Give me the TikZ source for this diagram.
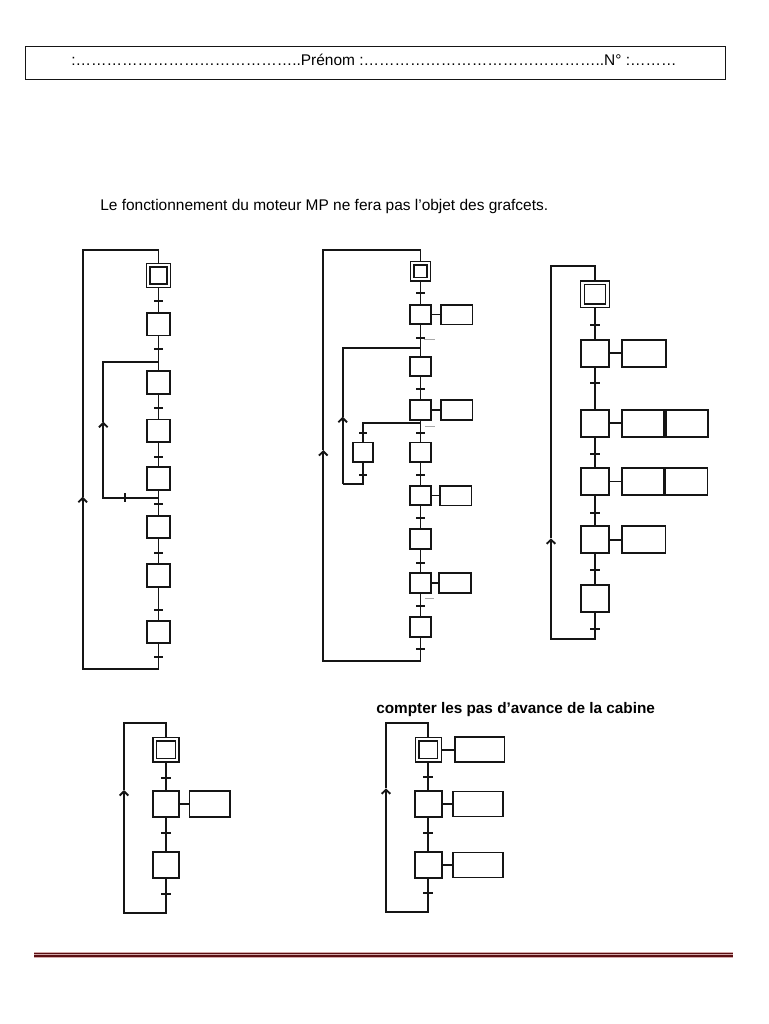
\documentclass[tikz,border=0pt]{standalone}
\usepackage{fontspec}
\setmainfont{Liberation Sans}
\usepackage{xcolor}
\usepackage{tikz}
\usetikzlibrary{positioning,arrows.meta}
\definecolor{GRInk}{HTML}{151515}
\definecolor{GRFaint}{HTML}{A8A8A8}
\definecolor{GRRule}{HTML}{5A0E12}
\definecolor{GRRuleLight}{HTML}{D4A9AA}
\begin{document}
\begin{tikzpicture}[x=0.75pt,y=-0.75pt,font=\fontsize{11.6}{14}\selectfont,
  link/.style={draw=GRInk,line width=1.4pt},
  looparrow/.style={link,-{Straight Barb[length=3.2pt,width=6.5pt]}},
  stepbox/.style={draw=GRInk,line width=1.4pt,inner sep=0pt,outer sep=0pt},
  initbox/.style={draw=GRInk,double,double distance=1.7pt,line width=1pt,inner sep=0pt,outer sep=1.85pt},
  actbox/.style={draw=GRInk,line width=1.3pt,inner sep=0pt,outer sep=0pt},
  trans/.style={fill=GRInk,inner sep=0pt,minimum width=6.5pt,minimum height=1.4pt}]
\path[use as bounding box] (0,0) rectangle (768,1024);
\node[draw=GRInk,line width=1.1pt,minimum width=525pt,minimum height=25pt,inner sep=0pt] (namebox) at (375.5,63) {};
\node[anchor=base,inner sep=0pt] (nameline) at (374,65.5) {:\foreach \k in {1,...,14}{…}..Prénom :\foreach \k in {1,...,15}{…}..N° :………};
\node[anchor=base west,inner sep=0pt] (intro) at (100,210.5) {Le fonctionnement du moteur MP ne fera pas l’objet des grafcets.};
\node[anchor=base west,inner sep=0pt,font=\fontsize{11.5}{14}\selectfont\bfseries] (g5title) at (376,713.5) {compter les pas d’avance de la cabine};
\node[initbox,minimum width=15.4pt,minimum height=15.3pt] (g1s0) at (158.5,275.5) {};
\node[stepbox,minimum width=17.8pt,minimum height=17pt] (g1s1) at (158.5,324.2) {};
\node[stepbox,minimum width=17.8pt,minimum height=17pt] (g1s2) at (158.5,382.3) {};
\node[stepbox,minimum width=17.8pt,minimum height=17pt] (g1s3) at (158.5,430.8) {};
\node[stepbox,minimum width=17.8pt,minimum height=17pt] (g1s4) at (158.5,478.7) {};
\node[stepbox,minimum width=17.8pt,minimum height=17pt] (g1s5) at (158.5,527) {};
\node[stepbox,minimum width=17.8pt,minimum height=17pt] (g1s6) at (158.5,575.5) {};
\node[stepbox,minimum width=17.8pt,minimum height=17pt] (g1s7) at (158.5,632) {};
\node[trans] (g1t1) at (158.5,301) {};
\node[trans] (g1t2) at (158.5,349.3) {};
\node[trans] (g1t3) at (158.5,407.7) {};
\node[trans] (g1t4) at (158.5,456.7) {};
\node[trans] (g1t5) at (158.5,504.3) {};
\node[trans] (g1t6) at (158.5,553) {};
\node[trans] (g1t7) at (158.5,610) {};
\node[trans] (g1t8) at (158.5,657.3) {};
\node[trans,rotate=90] (g1t9) at (125,497.7) {};
\coordinate (g1j1) at (158.5,362);
\coordinate (g1j2) at (158.5,497.7);
\coordinate (g1ra) at (103.3,421.7);
\coordinate (g1la) at (82.7,496.7);
\coordinate (g1bot) at (82.7,668.7);
\coordinate (g1top) at (82.7,250);
\draw[link] (g1s0) -- (g1s1) -- (g1s2) -- (g1s3) -- (g1s4) -- (g1s5) -- (g1s6) -- (g1s7);
\draw[looparrow] (g1j2) -| (g1ra);
\draw[link] (g1ra) |- (g1j1);
\draw[looparrow] (g1s7) -- (g1s7 |- g1bot) -| (g1la);
\draw[link] (g1la) -- (g1top) -| (g1s0);
\node[initbox,minimum width=12.4pt,minimum height=12pt] (g2s0) at (420.5,271.2) {};
\node[stepbox,minimum width=15.5pt,minimum height=14.8pt] (g2s1) at (420.5,314.5) {};
\node[stepbox,minimum width=15.5pt,minimum height=14.8pt] (g2s2) at (420.5,366.5) {};
\node[stepbox,minimum width=15.5pt,minimum height=14.8pt] (g2s3) at (420.5,410) {};
\node[stepbox,minimum width=15.5pt,minimum height=14.8pt] (g2s4l) at (363,452.3) {};
\node[stepbox,minimum width=15.5pt,minimum height=14.8pt] (g2s4) at (420.5,452.3) {};
\node[stepbox,minimum width=15.5pt,minimum height=14.8pt] (g2s5) at (420.5,495.5) {};
\node[stepbox,minimum width=15.5pt,minimum height=14.8pt] (g2s6) at (420.5,538.7) {};
\node[stepbox,minimum width=15.5pt,minimum height=14.8pt] (g2s7) at (420.5,583) {};
\node[stepbox,minimum width=15.5pt,minimum height=14.8pt] (g2s8) at (420.5,626.7) {};
\node[actbox,minimum width=23.8pt,minimum height=14.8pt] (g2a1) at (456.5,314.5) {};
\node[actbox,minimum width=23.8pt,minimum height=14.8pt] (g2a3) at (456.5,410) {};
\node[actbox,minimum width=23.8pt,minimum height=14.8pt] (g2a5) at (455.5,495.5) {};
\node[actbox,minimum width=23.8pt,minimum height=14.8pt] (g2a7) at (455,583) {};
\node[trans] (g2t1) at (420.5,293.3) {};
\node[trans] (g2t2) at (420.5,337.7) {};
\node[trans] (g2t3) at (420.5,389) {};
\node[trans] (g2t4) at (420.5,432.7) {};
\node[trans] (g2t4l) at (363,432.7) {};
\node[trans] (g2t5) at (420.5,475) {};
\node[trans] (g2t5l) at (363,475) {};
\node[trans] (g2t6) at (420.5,518.3) {};
\node[trans] (g2t7) at (420.5,563.3) {};
\node[trans] (g2t8) at (420.5,606) {};
\node[trans] (g2t9) at (420.5,649.3) {};
\coordinate (g2j1) at (420.5,347.7);
\coordinate (g2dv) at (363,423.3);
\coordinate (g2lb) at (342.7,484);
\coordinate (g2ra) at (342.7,416.7);
\coordinate (g2la) at (323.3,450);
\coordinate (g2bot) at (323.3,660.7);
\coordinate (g2top) at (323.3,250);
\draw[link] (g2s0) -- (g2s1) -- (g2s2) -- (g2s3) -- (g2s4) -- (g2s5) -- (g2s6) -- (g2s7) -- (g2s8);
\draw[link] (g2dv -| g2s3) -- (g2dv) -- (g2s4l);
\draw[link] (g2s4l) |- (g2lb);
\draw[looparrow] (g2lb) -- (g2ra);
\draw[link] (g2ra) |- (g2j1);
\draw[link] (g2s1) -- (g2a1);
\draw[link] (g2s3) -- (g2a3);
\draw[link] (g2s5) -- (g2a5);
\draw[link] (g2s7) -- (g2a7);
\draw[looparrow] (g2s8) -- (g2s8 |- g2bot) -| (g2la);
\draw[link] (g2la) -- (g2top) -| (g2s0);
\draw[GRFaint,line width=.6pt] (424,339) -- (435,339);
\draw[GRFaint,line width=.6pt] (425,426) -- (435,426);
\draw[GRFaint,line width=.6pt] (425,598.3) -- (434.3,598.3);
\node[initbox,minimum width=18.8pt,minimum height=17.3pt] (g3s0) at (595,294.2) {};
\node[stepbox,minimum width=21.2pt,minimum height=20.3pt] (g3s1) at (595,353.2) {};
\node[stepbox,minimum width=21.2pt,minimum height=20.3pt] (g3s2) at (595,423.3) {};
\node[stepbox,minimum width=21.2pt,minimum height=20.3pt] (g3s3) at (595,481.5) {};
\node[stepbox,minimum width=21.2pt,minimum height=20.3pt] (g3s4) at (595,539.8) {};
\node[stepbox,minimum width=21.2pt,minimum height=20.3pt] (g3s5) at (595,598.2) {};
\node[actbox,minimum width=32.8pt,minimum height=20.3pt] (g3a1) at (644,353.2) {};
\node[actbox,minimum width=32.8pt,minimum height=20.3pt] (g3a2) at (644,423.3) {};
\node[actbox,minimum width=32.8pt,minimum height=20.3pt,right=-1.3pt of g3a2] (g3a2b) {};
\node[actbox,minimum width=32.8pt,minimum height=20.3pt] (g3a3) at (643.5,481.5) {};
\node[actbox,minimum width=32.8pt,minimum height=20.3pt,right=-1.3pt of g3a3] (g3a3b) {};
\node[actbox,minimum width=32.8pt,minimum height=20.3pt] (g3a4) at (643.5,539.8) {};
\node[trans,minimum width=8pt] (g3t1) at (595,325) {};
\node[trans,minimum width=8pt] (g3t2) at (595,383.3) {};
\node[trans,minimum width=8pt] (g3t3) at (595,454.3) {};
\node[trans,minimum width=8pt] (g3t4) at (595,512.7) {};
\node[trans,minimum width=8pt] (g3t5) at (595,570) {};
\node[trans,minimum width=8pt] (g3t6) at (595,629) {};
\coordinate (g3la) at (551,538.3);
\coordinate (g3bot) at (551,639.3);
\coordinate (g3top) at (551,266);
\draw[link] (g3s0) -- (g3s1) -- (g3s2) -- (g3s3) -- (g3s4) -- (g3s5);
\draw[link] (g3s1) -- (g3a1);
\draw[link] (g3s2) -- (g3a2);
\draw[link] (g3s3) -- (g3a3);
\draw[link] (g3s4) -- (g3a4);
\draw[looparrow] (g3s5) -- (g3s5 |- g3bot) -| (g3la);
\draw[link] (g3la) -- (g3top) -| (g3s0);
\node[initbox,minimum width=16.8pt,minimum height=15.6pt] (g4s0) at (166,749.7) {};
\node[stepbox,minimum width=19.8pt,minimum height=19pt] (g4s1) at (166,804) {};
\node[stepbox,minimum width=19.8pt,minimum height=19pt] (g4s2) at (166,865) {};
\node[actbox,minimum width=30.3pt,minimum height=19pt] (g4a1) at (209.8,804) {};
\node[trans,minimum width=7pt] (g4t1) at (166,777.7) {};
\node[trans,minimum width=7pt] (g4t2) at (166,833.3) {};
\node[trans,minimum width=7pt] (g4t3) at (166,894) {};
\coordinate (g4la) at (124,790);
\coordinate (g4bot) at (124,912.7);
\coordinate (g4top) at (124,722.7);
\draw[link] (g4s0) -- (g4s1) -- (g4s2);
\draw[link] (g4s1) -- (g4a1);
\draw[looparrow] (g4s2) -- (g4s2 |- g4bot) -| (g4la);
\draw[link] (g4la) -- (g4top) -| (g4s0);
\node[initbox,minimum width=16.7pt,minimum height=15.6pt] (g5s0) at (428.3,749.7) {};
\node[stepbox,minimum width=20pt,minimum height=19pt] (g5s1) at (428.3,804) {};
\node[stepbox,minimum width=20pt,minimum height=19pt] (g5s2) at (428.3,865) {};
\node[actbox,minimum width=37.3pt,minimum height=18.6pt] (g5a0) at (479.5,749.7) {};
\node[actbox,minimum width=37.3pt,minimum height=18.6pt] (g5a1) at (477.8,804) {};
\node[actbox,minimum width=37.3pt,minimum height=18.6pt] (g5a2) at (478.2,865) {};
\node[trans,minimum width=7.5pt] (g5t1) at (428.3,777.3) {};
\node[trans,minimum width=7.5pt] (g5t2) at (428.3,833.3) {};
\node[trans,minimum width=7.5pt] (g5t3) at (428.3,893.3) {};
\coordinate (g5la) at (386,788.3);
\coordinate (g5bot) at (386,912.3);
\coordinate (g5top) at (386,722.7);
\draw[link] (g5s0) -- (g5s1) -- (g5s2);
\draw[link] (g5s0) -- (g5a0);
\draw[link] (g5s1) -- (g5a1);
\draw[link] (g5s2) -- (g5a2);
\draw[looparrow] (g5s2) -- (g5s2 |- g5bot) -| (g5la);
\draw[link] (g5la) -- (g5top) -| (g5s0);
\fill[GRRuleLight] (34,952.3) rectangle (732.7,958.3);
\fill[GRRule] (34,953.2) rectangle (732.7,954.4);
\fill[GRRule] (34,955.3) rectangle (732.7,957.4);
\end{tikzpicture}
\end{document}
